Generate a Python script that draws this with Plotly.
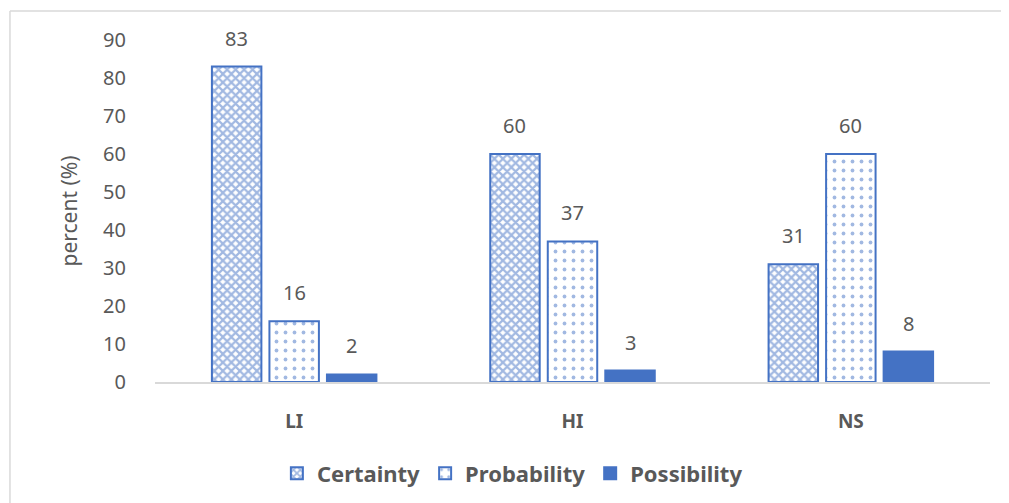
import plotly.graph_objects as go

categories = ["LI", "HI", "NS"]
certainty = [83, 60, 31]
probability = [16, 37, 60]
possibility = [2, 3, 8]
series_names = ["Certainty", "Probability", "Possibility"]
y_ticks = [0, 10, 20, 30, 40, 50, 60, 70, 80, 90]

blue = "#4472C4"
gray = "#595959"
font = "Noto Sans"

BARGAP = 0.38
PLOT_W = 835
slot_px = PLOT_W / len(categories) * (1 - BARGAP) / 3

fig = go.Figure()
patterns = [dict(shape="x", size=6, solidity=0.6, fgcolor=blue, bgcolor="white"),
            dict(shape=".", size=9, solidity=0.14, fgcolor=blue, bgcolor="white"),
            None]
all_vals = [certainty, probability, possibility]
for i, (name, vals, pat) in enumerate(zip(series_names, all_vals, patterns)):
    marker = dict(color=blue if pat is None else "white", line=dict(color=blue, width=2))
    if pat is not None:
        marker["pattern"] = pat
    fig.add_trace(go.Bar(x=categories, y=vals, name=name, marker=marker))
    for c, v in zip(categories, vals):
        fig.add_annotation(x=c, y=v, xref="x", yref="y", text=str(v), showarrow=False,
                           xshift=(i - 1) * slot_px, yshift=13, yanchor="bottom",
                           font=dict(family=font, size=20, color=gray))

fig.update_layout(
    width=1001, height=495,
    margin=dict(l=147, r=19, t=32, b=121, autoexpand=False),
    paper_bgcolor="white", plot_bgcolor="white",
    barmode="group", bargap=BARGAP, bargroupgap=0.14,
    font=dict(family=font, color=gray),
    showlegend=True,
    legend=dict(orientation="h", x=0.428, xanchor="center", y=-0.206, yanchor="top",
                font=dict(family=font, size=22, color=gray, weight="bold"),
                itemwidth=30, traceorder="normal"),
    xaxis=dict(showline=True, linecolor="#D9D9D9", linewidth=2, ticks="",
               ticklabelstandoff=21,
               tickfont=dict(family=font, size=19, color=gray, weight="bold")),
    yaxis=dict(range=[0, 90], tickvals=y_ticks, showgrid=False, zeroline=False,
               showline=False, tickfont=dict(family=font, size=20, color=gray),
               ticklabelstandoff=28,
               title=dict(text="percent (%)", font=dict(family=font, size=21, color=gray), standoff=19)),
)

fig.add_shape(type="line", xref="paper", yref="paper", x0=-0.1737, x1=1.03, y0=1.0848, y1=1.0848,
              line=dict(color="#D9D9D9", width=1.5))
fig.add_shape(type="line", xref="paper", yref="paper", x0=-0.1737, x1=-0.1737, y0=1.0848, y1=-0.36,
              line=dict(color="#D9D9D9", width=1.5))

fig.write_html("out.html")
